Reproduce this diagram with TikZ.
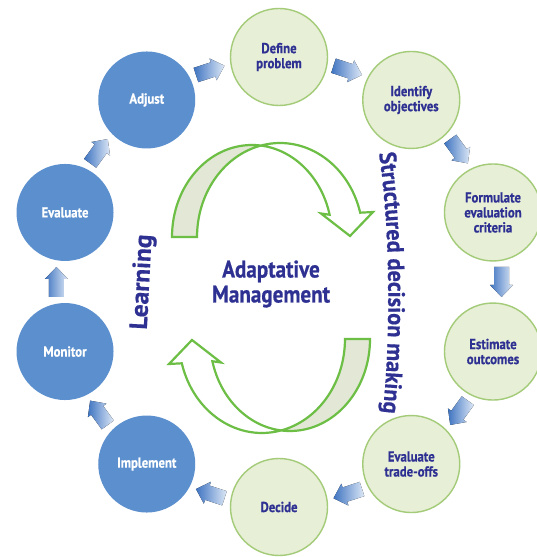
\documentclass[tikz,border=0pt]{standalone}
\usepackage{fontspec}
\usetikzlibrary{calc,decorations.text}
\newfontfamily\cf[FakeStretch=0.88,FakeBold=0.6]{PT Sans}
\newfontfamily\cfs[FakeStretch=0.95,FakeBold=0.6]{PT Sans}
\newfontfamily\cfw[FakeStretch=1.02,FakeBold=0.6]{PT Sans}
\definecolor{bluec}{HTML}{5B8FCD}
\definecolor{greenf}{HTML}{E7EFD7}
\definecolor{greend}{HTML}{A3CB78}
\definecolor{navy}{HTML}{2E3192}
\definecolor{arrowg}{HTML}{6CBE45}
\definecolor{ribbonf}{HTML}{E2E8D5}
\definecolor{arrdark}{HTML}{3F74C1}
\definecolor{arrlight}{HTML}{DDE8F6}
\newcommand\blockarrow[2]{%
\fill[blockarr] let \p1=(#1.center), \p2=(#2.center), \n1={atan2(\y2-\y1,\x2-\x1)},
  \p3=($(#1.center)!0.5!(#2.center)$), \p4=($(C)!1.04!(\p3)$) in
  ($(\p4)+(\n1:-15)+(\n1+90:7.5)$) -- ($(\p4)+(\n1:3)+(\n1+90:7.5)$) --
  ($(\p4)+(\n1:3)+(\n1+90:11.5)$) -- ($(\p4)+(\n1:15)$) --
  ($(\p4)+(\n1:3)+(\n1-90:11.5)$) -- ($(\p4)+(\n1:3)+(\n1-90:7.5)$) --
  ($(\p4)+(\n1:-15)+(\n1-90:7.5)$) -- cycle;}
\begin{document}
\begin{tikzpicture}[x=1pt,y=1pt,
  circ/.style={circle, minimum size=97pt, inner sep=0pt, align=center,
    font=\cf\bfseries\fontsize{14.5}{15}\selectfont},
  bluecirc/.style={circ, fill=bluec, text=white},
  greencirc/.style={circ, fill=greenf, draw=greend, line width=1.4pt, text=navy},
  blockarr/.style={left color=arrdark, right color=arrlight},
  ribbonline/.style={draw=arrowg, line width=2.2pt, line join=miter},
  ribbon path/.style={insert path={(172,320) arc[start angle=180,end angle=14,x radius=80,y radius=92]
     -- (321,343.5) -- (350,321) -- (373,345) -- (360.2,344.3)
     arc[start angle=15,end angle=180,x radius=83,y radius=94] -- cycle}},
]
\clip (0,0) rectangle (537,557);
\fill[white] (0,0) rectangle (537,557);
\coordinate (C) at (279,275);
% circles
\node[greencirc] (define) at ($(C)+(90:225)$) {Define\\problem};
\node[greencirc] (ident) at ($(C)+(54:225)$) {Identify\\objectives};
\node[greencirc] (formul) at ($(C)+(18:225)$) {Formulate\\evaluation\\criteria};
\node[greencirc] (estim) at ($(C)+(-18:225)$) {Estimate\\outcomes};
\node[greencirc] (trade) at ($(C)+(-54:225)$) {Evaluate\\trade-offs};
\node[greencirc] (decide) at ($(C)+(-90:225)$) {Decide};
\node[bluecirc] (implem) at ($(C)+(-126:225)$) {Implement};
\node[bluecirc] (monitor) at ($(C)+(-162:225)$) {Monitor};
\node[bluecirc] (evalu) at ($(C)+(162:225)$) {Evaluate};
\node[bluecirc] (adjust) at ($(C)+(126:225)$) {Adjust};
% block arrows
\blockarrow{adjust}{define}
\blockarrow{define}{ident}
\blockarrow{ident}{formul}
\blockarrow{formul}{estim}
\blockarrow{estim}{trade}
\blockarrow{trade}{decide}
\blockarrow{decide}{implem}
\blockarrow{implem}{monitor}
\blockarrow{monitor}{evalu}
\blockarrow{evalu}{adjust}
% central ribbons
\begin{scope}
  \clip (0,0) rectangle (259,557);
  \fill[ribbonf, ribbon path];
\end{scope}
\draw[ribbonline, ribbon path];
\begin{scope}[rotate around={180:(271,269)}]
  \begin{scope}
    \clip (0,0) rectangle (259,557);
    \fill[ribbonf, ribbon path];
  \end{scope}
  \draw[ribbonline, ribbon path];
\end{scope}
% texts
\node[align=center, text=navy, font=\cf\bfseries\fontsize{24}{25}\selectfont] (title) at (271,273) {Adaptative\\Management};
\node[rotate=87, text=navy, font=\cfw\bfseries\fontsize{25}{25}\selectfont] (learn) at (143,275) {Learning};
\path[decorate, decoration={text along path, text align=center,
  text={|\cfs\bfseries\fontsize{23.5}{23.5}\selectfont\color{navy}|Structured decision making}}]
  (378,411) .. controls (391,330) and (391,215) .. (382,137);
\end{tikzpicture}
\end{document}
